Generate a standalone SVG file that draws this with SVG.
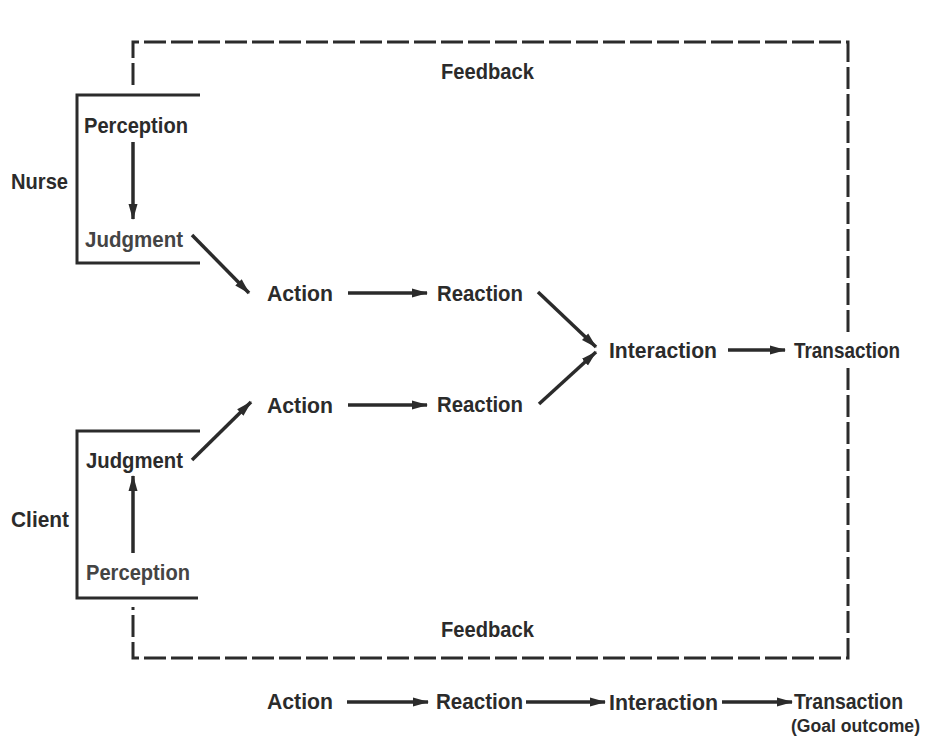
<svg xmlns="http://www.w3.org/2000/svg" width="927" height="744" viewBox="0 0 927 744">
<style>
text{font-family:"Liberation Sans",Arial,sans-serif;font-weight:bold;font-size:21.5px;fill:#2b2b2b}
.lt{fill:#444}
.ln{stroke:#2b2b2b;stroke-width:3;fill:none}
.dash{stroke:#2b2b2b;stroke-width:3;fill:none;stroke-dasharray:22 5}
.arr{stroke:#2b2b2b;stroke-width:3.5;fill:none;marker-end:url(#ah)}
</style>
<defs>
<marker id="ah" markerWidth="16" markerHeight="11" refX="15" refY="5.5" orient="auto" markerUnits="userSpaceOnUse">
<path d="M0,1 L16,5.5 L0,10 z" fill="#2b2b2b"/>
</marker>
</defs>
<rect width="927" height="744" fill="#fff"/>

<g id="feedback-loop">
<path class="dash" d="M133,85 V42 H848 V332"/>
<path class="dash" d="M848,368 V658 H133 V607"/>
</g>

<g id="nurse-bracket"><path class="ln" d="M200,95 H77 V263 H200"/></g>
<g id="client-bracket"><path class="ln" d="M200,431 H77 V598 H198"/></g>

<g id="feedback-top"><text x="441" y="79" textLength="93" lengthAdjust="spacingAndGlyphs">Feedback</text></g>
<g id="feedback-bottom"><text x="441" y="637" textLength="93" lengthAdjust="spacingAndGlyphs">Feedback</text></g>
<g id="nurse"><text x="11" y="189" textLength="57" lengthAdjust="spacingAndGlyphs">Nurse</text></g>
<g id="nurse-perception"><text x="84" y="133" textLength="104" lengthAdjust="spacingAndGlyphs">Perception</text></g>
<g id="nurse-judgment"><text class="lt" x="85" y="247" textLength="98" lengthAdjust="spacingAndGlyphs">Judgment</text></g>
<g id="nurse-action"><text x="267" y="301" textLength="66" lengthAdjust="spacingAndGlyphs">Action</text></g>
<g id="nurse-reaction"><text x="437" y="301" textLength="86" lengthAdjust="spacingAndGlyphs">Reaction</text></g>
<g id="interaction"><text x="609" y="358" textLength="108" lengthAdjust="spacingAndGlyphs">Interaction</text></g>
<g id="transaction"><text x="794" y="358" textLength="106" lengthAdjust="spacingAndGlyphs">Transaction</text></g>
<g id="client-action"><text x="267" y="413" textLength="66" lengthAdjust="spacingAndGlyphs">Action</text></g>
<g id="client-reaction"><text x="437" y="412" textLength="86" lengthAdjust="spacingAndGlyphs">Reaction</text></g>
<g id="client-judgment"><text x="86" y="468" textLength="97" lengthAdjust="spacingAndGlyphs">Judgment</text></g>
<g id="client"><text x="11" y="527" textLength="58" lengthAdjust="spacingAndGlyphs">Client</text></g>
<g id="client-perception"><text class="lt" x="86" y="580" textLength="104" lengthAdjust="spacingAndGlyphs">Perception</text></g>

<g id="legend-action"><text x="267" y="709" textLength="66" lengthAdjust="spacingAndGlyphs">Action</text></g>
<g id="legend-reaction"><text x="436" y="709" textLength="87" lengthAdjust="spacingAndGlyphs">Reaction</text></g>
<g id="legend-interaction"><text x="609" y="710" textLength="109" lengthAdjust="spacingAndGlyphs">Interaction</text></g>
<g id="legend-transaction"><text x="794" y="709" textLength="109" lengthAdjust="spacingAndGlyphs">Transaction</text></g>
<g id="legend-goal"><text x="791" y="732" textLength="129" lengthAdjust="spacingAndGlyphs" style="font-size:18px">(Goal outcome)</text></g>

<g id="connectors">
<line class="arr" x1="133" y1="142" x2="133" y2="219"/>
<line class="arr" x1="192" y1="235" x2="249" y2="293"/>
<line class="arr" x1="348" y1="293" x2="427" y2="293"/>
<line class="arr" x1="538" y1="292" x2="596" y2="347"/>
<line class="arr" x1="539" y1="404" x2="596" y2="352"/>
<line class="arr" x1="728" y1="350" x2="785" y2="350"/>
<line class="arr" x1="348" y1="405" x2="427" y2="405"/>
<line class="arr" x1="192" y1="460" x2="251" y2="402"/>
<line class="arr" x1="133" y1="553" x2="133" y2="476"/>
<line class="arr" x1="347" y1="702" x2="428" y2="702"/>
<line class="arr" x1="526" y1="702" x2="605" y2="702"/>
<line class="arr" x1="722" y1="702" x2="792" y2="702"/>
</g>
</svg>
